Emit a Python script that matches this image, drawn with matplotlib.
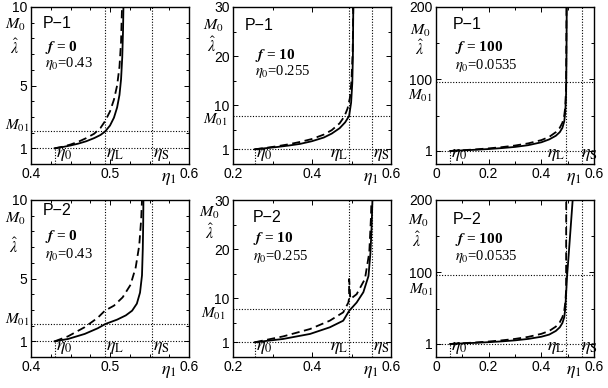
import matplotlib
matplotlib.use("Agg")
import matplotlib.pyplot as plt
import matplotlib.transforms as mtransforms

plt.rcParams.update({
    "font.family": "Liberation Sans",
    "mathtext.fontset": "stix",
    "font.size": 9,
    "axes.linewidth": 1.0,
})

# ---- values --------------------------------------------------------------
ETA_L = 0.494
ETA_S = 0.553
ETA0 = [0.43, 0.255, 0.0535]
ETA0_TEXT = ["0.43", "0.255", "0.0535"]
F_TEXT = ["0", "10", "100"]
M01 = [2.1, 7.8, 97.0]
MODELS = ["P\u22121", "P\u22122"]

XLIMS = [(0.4, 0.6), (0.2, 0.6), (0.0, 0.6)]
YLIMS = [(0, 10), (-2, 30), (-17, 200)]
XLABELED = [[0.4, 0.5, 0.6], [0.2, 0.4, 0.6], [0.0, 0.2, 0.4, 0.6]]
XLABELS = [["0.4", "0.5", "0.6"], ["0.2", "0.4", "0.6"], ["0", "0.2", "0.4", "0.6"]]
XMINOR = [[0.425, 0.45, 0.475, 0.525, 0.55, 0.575],
          [0.3, 0.5], [0.1, 0.3, 0.5]]
YLABELED = [[1, 5, 10], [1, 10, 20, 30], [1, 100, 200]]
YMINOR = [[2, 3, 4, 6, 7, 8, 9], [5, 15, 25], [50, 150]]

# P-1, f = 0
P1A_SOLID_X = [0.43, 0.44, 0.45, 0.46, 0.47, 0.48, 0.488, 0.494, 0.50, 0.505,
               0.509, 0.512, 0.514, 0.5155, 0.5165, 0.517]
P1A_SOLID_Y = [1.0, 1.08, 1.18, 1.3, 1.45, 1.65, 1.85, 2.08, 2.45, 2.95,
               3.6, 4.4, 5.4, 6.8, 8.5, 10.0]
P1A_DASH_X = [0.43, 0.44, 0.45, 0.46, 0.47, 0.48, 0.488, 0.494, 0.50, 0.505,
              0.509, 0.512, 0.514, 0.5152]
P1A_DASH_Y = [1.0, 1.1, 1.24, 1.42, 1.65, 1.93, 2.3, 2.75, 3.35, 4.1,
              5.0, 6.2, 7.8, 10.0]
# P-1, f = 10
P1B_SOLID_X = [0.255, 0.28, 0.31, 0.34, 0.37, 0.40, 0.43, 0.45, 0.47, 0.484,
               0.494, 0.499, 0.502, 0.5035, 0.5045]
P1B_SOLID_Y = [1.0, 1.2, 1.45, 1.75, 2.1, 2.65, 3.4, 4.2, 5.3, 6.5,
               7.8, 10.5, 14.5, 20.0, 30.0]
P1B_DASH_X = [0.255, 0.28, 0.31, 0.34, 0.37, 0.40, 0.43, 0.45, 0.47, 0.482,
              0.49, 0.496, 0.50, 0.503, 0.5045]
P1B_DASH_Y = [1.0, 1.25, 1.6, 2.0, 2.5, 3.1, 4.0, 4.9, 6.3, 7.7,
              9.3, 11.5, 15.0, 21.0, 30.0]
# P-1, f = 100
P1C_SOLID_X = [0.0535, 0.1, 0.15, 0.2, 0.25, 0.3, 0.35, 0.4, 0.43, 0.455,
               0.47, 0.48, 0.487, 0.491, 0.494, 0.4955, 0.4965]
P1C_SOLID_Y = [1, 1.8, 2.7, 3.7, 5.0, 6.6, 9.0, 13, 17, 22,
               27, 33, 42, 55, 80, 130, 200]
P1C_DASH_X = [0.0535, 0.1, 0.15, 0.2, 0.25, 0.3, 0.35, 0.4, 0.43, 0.455,
              0.47, 0.48, 0.487, 0.491, 0.494, 0.4955]
P1C_DASH_Y = [1, 2.0, 3.2, 4.6, 6.3, 8.5, 11.5, 16, 20.5, 27,
              33, 40, 50, 62, 90, 200]
# P-2, f = 0
P2A_SOLID_X = [0.43, 0.447, 0.468, 0.4845, 0.494, 0.509, 0.52, 0.528, 0.534,
               0.538, 0.5405, 0.5415, 0.542, 0.5423]
P2A_SOLID_Y = [1.0, 1.15, 1.47, 1.83, 2.1, 2.38, 2.65, 2.95, 3.4,
               4.1, 5.2, 6.9, 8.4, 10.0]
P2A_DASH_X = [0.43, 0.447, 0.468, 0.4845, 0.4935, 0.505, 0.516, 0.526, 0.5325,
              0.537, 0.5395, 0.5405]
P2A_DASH_Y = [1.0, 1.32, 1.9, 2.5, 2.95, 3.27, 3.8, 4.6, 5.7,
              7.1, 8.8, 10.0]
# P-2, f = 10
P2B_SOLID_X = [0.255, 0.327, 0.395, 0.445, 0.479, 0.494, 0.513, 0.53, 0.543,
               0.548, 0.551, 0.553]
P2B_SOLID_Y = [1.0, 1.68, 2.7, 4.05, 5.4, 7.4, 9.1, 11.2, 14.5,
               19.3, 24.7, 30.0]
P2B_DASH_X = [0.255, 0.327, 0.395, 0.445, 0.479, 0.492, 0.494, 0.494, 0.497,
              0.513, 0.534, 0.545, 0.549, 0.5505]
P2B_DASH_Y = [1.0, 2.2, 3.7, 5.4, 7.1, 9.1, 10.0, 13.9, 9.8,
              10.8, 13.9, 19.3, 26.0, 30.0]
# P-2, f = 100
P2C_SOLID_X = [0.0535, 0.1, 0.15, 0.2, 0.25, 0.3, 0.35, 0.4, 0.43, 0.455,
               0.47, 0.48, 0.487, 0.491, 0.494, 0.498, 0.502, 0.507, 0.512,
               0.517, 0.519]
P2C_SOLID_Y = [1, 1.8, 2.6, 3.5, 4.6, 6.0, 8.0, 11, 14, 19,
               24, 30, 38, 50, 70, 96, 115, 140, 165, 190, 200]
P2C_DASH_X = [0.0535, 0.1, 0.15, 0.2, 0.25, 0.3, 0.35, 0.4, 0.43, 0.455,
              0.47, 0.48, 0.487, 0.491, 0.494, 0.4945]
P2C_DASH_Y = [1, 2.0, 3.1, 4.4, 6.0, 8.0, 10.8, 15, 19, 25,
              31, 38, 47, 58, 75, 200]

SOLID = [[(P1A_SOLID_X, P1A_SOLID_Y), (P1B_SOLID_X, P1B_SOLID_Y), (P1C_SOLID_X, P1C_SOLID_Y)],
         [(P2A_SOLID_X, P2A_SOLID_Y), (P2B_SOLID_X, P2B_SOLID_Y), (P2C_SOLID_X, P2C_SOLID_Y)]]
DASHED = [[(P1A_DASH_X, P1A_DASH_Y), (P1B_DASH_X, P1B_DASH_Y), (P1C_DASH_X, P1C_DASH_Y)],
          [(P2A_DASH_X, P2A_DASH_Y), (P2B_DASH_X, P2B_DASH_Y), (P2C_DASH_X, P2C_DASH_Y)]]

W, H = 608, 388
SERIF = "Liberation Serif"

# layout in pixels
COL_LEFT = [31, 233, 436]
ROW_TOP = [7, 200]
AX_W, AX_H = 158, 157

# per-panel text anchors (axes fraction)
P_POS = [[(0.076, 0.895), (0.076, 0.885), (0.108, 0.89)],
         [(0.076, 0.936), (0.127, 0.89), (0.108, 0.877)]]
F_POS = [[(0.089, 0.745), (0.14, 0.694), (0.12, 0.745)],
         [(0.089, 0.77), (0.127, 0.755), (0.12, 0.75)]]
E_POS = [[(0.089, 0.643), (0.14, 0.586), (0.12, 0.63)],
         [(0.089, 0.655), (0.127, 0.64), (0.12, 0.64)]]
# left-hand labels (pixel centers)
M0_PX = [[(15, 25), (213, 26), (420, 31)], [(15, 219), (209, 213), (418, 221)]]
LAM_PX = [[(15, 47), (212, 45), (420, 48)], [(14, 246), (210, 232), (417, 240)]]
M01_PX = [[(17, 126), (215, 120), (420, 96)], [(17, 320), (213, 314), (421, 290)]]


def fig_xy(px, py):
    return px / W, 1 - py / H


def draw_panel(fig, row, col):
    left, top = COL_LEFT[col], ROW_TOP[row]
    ax = fig.add_axes([left / W, 1 - (top + AX_H) / H, AX_W / W, AX_H / H])
    ax.set_xlim(*XLIMS[col])
    ax.set_ylim(*YLIMS[col])

    dot = dict(color="black", ls=(0, (1, 1.5)), lw=0.8)
    ax.axhline(1, **dot)
    ax.axhline(M01[col], **dot)
    ax.vlines(ETA0[col], YLIMS[col][0], 1, **dot)
    ax.axvline(ETA_L, **dot)
    ax.axvline(ETA_S, **dot)

    sx, sy = SOLID[row][col]
    dx, dy = DASHED[row][col]
    ax.plot(sx, sy, color="black", lw=1.3, solid_joinstyle="round")
    ax.plot(dx, dy, color="black", lw=1.3, ls=(0, (4.5, 2.5)))

    ax.set_xticks(XLABELED[col])
    ax.set_xticklabels(XLABELS[col])
    ax.set_xticks(XMINOR[col], minor=True)
    ax.set_yticks(YLABELED[col])
    ax.set_yticklabels([str(v) for v in YLABELED[col]])
    ax.set_yticks(YMINOR[col], minor=True)
    ax.tick_params(which="both", direction="in", top=True, right=True,
                   labelsize=10, pad=2.5)
    ax.tick_params(which="major", length=3.5, width=0.7)
    ax.tick_params(which="minor", length=2.5, width=0.7)

    # eta labels along the bottom
    tr = mtransforms.blended_transform_factory(ax.transData, ax.transAxes)
    span = XLIMS[col][1] - XLIMS[col][0]
    ax.text(ETA0[col] + 0.006 * span, 0.06, r"$\eta_0$", transform=tr,
            fontsize=13, va="center", ha="left")
    if col == 0:
        ax.text(ETA_L + 0.006 * span, 0.06, r"$\eta_{\rm L}$", transform=tr,
                fontsize=13, va="center", ha="left")
    else:
        ax.text(ETA_L - 0.006 * span, 0.06, r"$\eta_{\rm L}$", transform=tr,
                fontsize=13, va="center", ha="right")
    ax.text(ETA_S + (0.006 if col < 2 else -0.005) * span, 0.06,
            r"$\eta_{\rm S}$", transform=tr, fontsize=13, va="center", ha="left")

    ax.text(0.875, -0.09, r"$\eta_1$", transform=ax.transAxes, fontsize=13,
            ha="center", va="center")

    px, py = P_POS[row][col]
    ax.text(px, py, MODELS[row], transform=ax.transAxes, fontsize=11.5,
            ha="left", va="center")
    fx, fy = F_POS[row][col]
    ax.text(fx, fy, r"$\mathbfit{f}$ = " + F_TEXT[col], transform=ax.transAxes,
            fontsize=11, fontweight="bold", family=SERIF, ha="left", va="center")
    ex, ey = E_POS[row][col]
    ax.text(ex, ey, r"$\eta_0$=" + ETA0_TEXT[col], transform=ax.transAxes,
            fontsize=10.5, family=SERIF, ha="left", va="center")

    fig.text(*fig_xy(*M0_PX[row][col]), r"$M_0$", fontsize=11.5,
             ha="center", va="center")
    fig.text(*fig_xy(*LAM_PX[row][col]), r"$\hat{\lambda}$", fontsize=11.5,
             ha="center", va="center")
    fig.text(*fig_xy(*M01_PX[row][col]), r"$M_{01}$", fontsize=11,
             ha="center", va="center")
    return ax


def main():
    fig = plt.figure(figsize=(W / 100, H / 100), dpi=100)
    for row in range(2):
        for col in range(3):
            draw_panel(fig, row, col)
    fig.savefig("out.png", dpi=100)
    plt.close(fig)


if __name__ == "__main__":
    main()
